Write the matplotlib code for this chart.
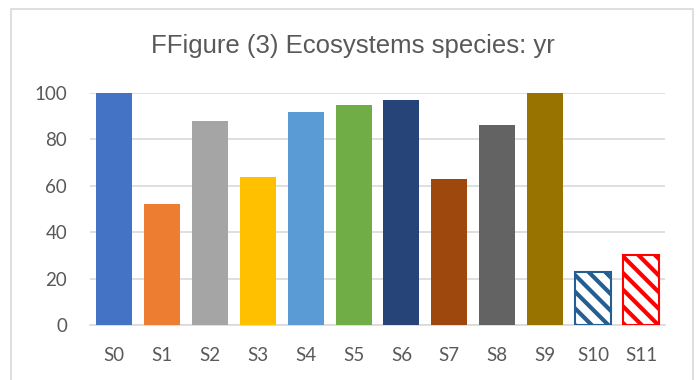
import matplotlib
matplotlib.use("Agg")
import matplotlib.pyplot as plt
from matplotlib.patches import Rectangle

labels = ["S0", "S1", "S2", "S3", "S4", "S5", "S6", "S7", "S8", "S9", "S10", "S11"]
values = [100, 52, 88, 64, 92, 95, 97, 63, 86, 100, 23, 30]
colors = ["#4472C4", "#ED7D31", "#A5A5A5", "#FFC000", "#5B9BD5", "#70AD47",
          "#264478", "#9E480E", "#636363", "#997300", "#255E91", "#FF0000"]
hatched = [False] * 10 + [True, True]
yticks = [0, 20, 40, 60, 80, 100]

W, H = 697, 380
fig = plt.figure(figsize=(W / 100, H / 100), dpi=100)
plt.rcParams["hatch.linewidth"] = 3.0

# chart frame
fig.patches.append(Rectangle((11 / W, -0.05), (693 - 11) / W, 1.05 - 9 / H,
                             transform=fig.transFigure, fill=False,
                             edgecolor="#D9D9D9", linewidth=1.2))

ax = fig.add_axes([90 / W, 1 - 325 / H, (665 - 90) / W, (325 - 93) / H])
x = range(len(labels))
for i, (v, c, h) in enumerate(zip(values, colors, hatched)):
    if h:
        ax.bar(i, v, width=0.75, facecolor="white", edgecolor=c,
               hatch="\\\\", linewidth=1.5, zorder=3)
    else:
        ax.bar(i, v, width=0.75, color=c, zorder=3)

ax.set_xlim(-0.5, len(labels) - 0.5)
ax.set_ylim(0, 100)
ax.set_yticks(yticks)
ax.set_xticks(list(x))
ax.set_xticklabels(labels)
ax.yaxis.grid(True, color="#D9D9D9", linewidth=1.2, zorder=0)
for s in ["top", "right", "left"]:
    ax.spines[s].set_visible(False)
ax.spines["bottom"].set_color("#D9D9D9")
ax.spines["bottom"].set_linewidth(1.2)
ax.tick_params(axis="both", length=0, labelsize=13.5, labelcolor="#595959")
ax.tick_params(axis="x", pad=16)
ax.tick_params(axis="y", pad=16.5)
for t in ax.get_xticklabels() + ax.get_yticklabels():
    t.set_family("Lato")

fig.text(353 / W, 1 - 46 / H, "FFigure (3) Ecosystems species: yr",
         ha="center", va="center", fontsize=18.5, color="#595959",
         family="Liberation Sans")

fig.savefig("out.png", dpi=100)
